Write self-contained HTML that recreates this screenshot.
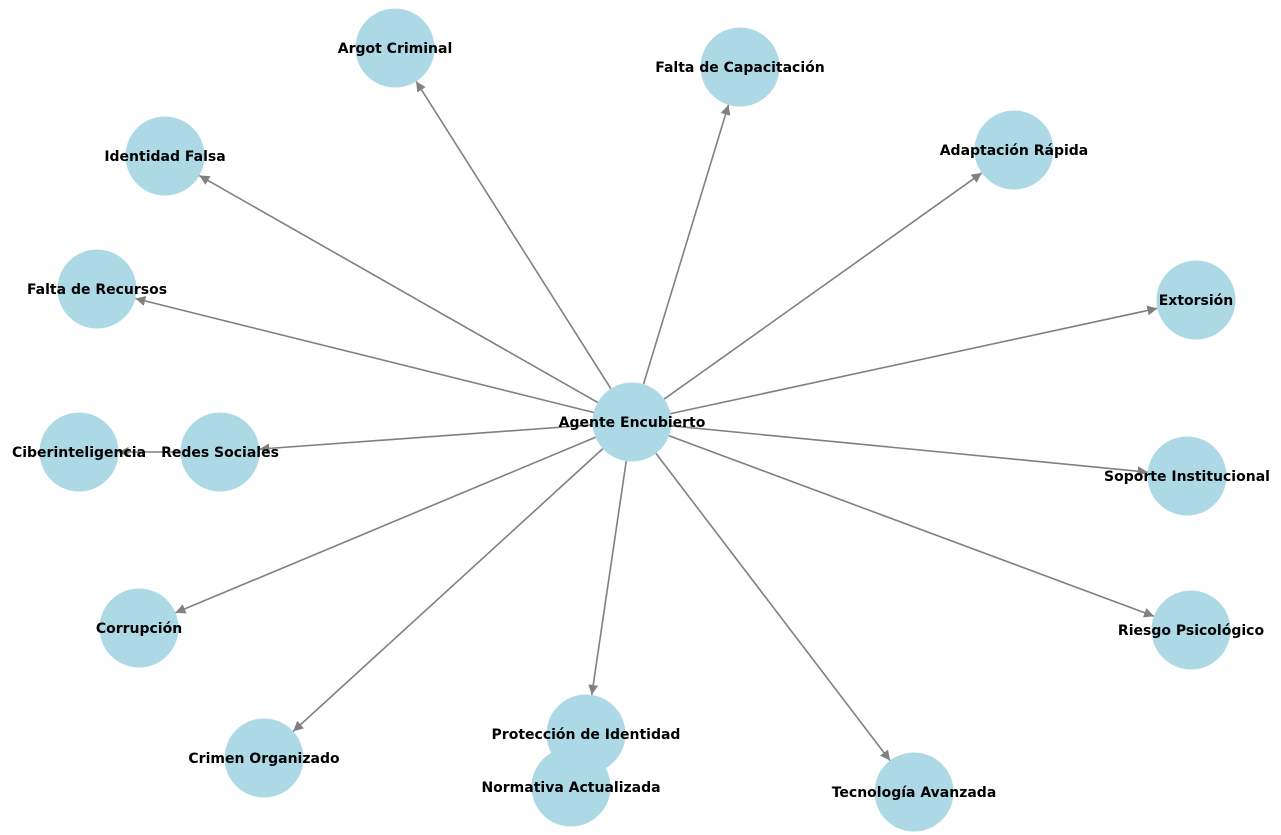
<!DOCTYPE html>
<html><head><meta charset="utf-8"><style>
html,body{margin:0;padding:0;background:#fff;width:1281px;height:835px;overflow:hidden}
text{font-family:"DejaVu Sans","Liberation Sans",sans-serif;font-weight:bold;font-size:14px;fill:#000}
</style></head><body>
<svg id="s" width="1281" height="835" xmlns="http://www.w3.org/2000/svg">
<defs><marker id="a" viewBox="0 0 10 10" refX="10" refY="5" markerWidth="10" markerHeight="10" markerUnits="userSpaceOnUse" orient="auto"><path d="M0,0 L10,5 L0,10 z" fill="#808080"/></marker></defs>
<g id="e"></g><g id="n"></g>
</svg>
<script>
var N={
"Agente Encubierto":[632,422],"Argot Criminal":[395,48],"Falta de Capacitación":[740,67],
"Identidad Falsa":[165,156],"Adaptación Rápida":[1014,150],"Falta de Recursos":[97,289],
"Extorsión":[1196,300],"Ciberinteligencia":[79,452],"Redes Sociales":[220,452],
"Soporte Institucional":[1187,476],"Corrupción":[139,628],"Riesgo Psicológico":[1191,630],
"Crimen Organizado":[264,758],"Protección de Identidad":[586,734],"Normativa Actualizada":[571,787],
"Tecnología Avanzada":[914,792]};
var c="Agente Encubierto",E=[];
for(var k in N){if(k!=c&&k!="Ciberinteligencia"&&k!="Normativa Actualizada")E.push([c,k]);}
E.push(["Redes Sociales","Ciberinteligencia"]);
var ns="http://www.w3.org/2000/svg",R=39.5,eg=document.getElementById("e"),ng=document.getElementById("n");
E.forEach(function(p){var a=N[p[0]],b=N[p[1]],dx=b[0]-a[0],dy=b[1]-a[1],d=Math.hypot(dx,dy),ux=dx/d,uy=dy/d;
var l=document.createElementNS(ns,"line");l.setAttribute("x1",a[0]+ux*R);l.setAttribute("y1",a[1]+uy*R);
l.setAttribute("x2",b[0]-ux*R);l.setAttribute("y2",b[1]-uy*R);l.setAttribute("stroke","#808080");
l.setAttribute("stroke-width","1.6");l.setAttribute("marker-end","url(#a)");eg.appendChild(l);});
for(var k in N){var q=document.createElementNS(ns,"circle");q.setAttribute("cx",N[k][0]);q.setAttribute("cy",N[k][1]);
q.setAttribute("r",R);q.setAttribute("fill","#add8e6");ng.appendChild(q);}
for(var k in N){var t=document.createElementNS(ns,"text");t.setAttribute("x",N[k][0]);t.setAttribute("y",N[k][1]+5);
t.setAttribute("text-anchor","middle");t.textContent=k;ng.appendChild(t);}
</script>
</body></html>
